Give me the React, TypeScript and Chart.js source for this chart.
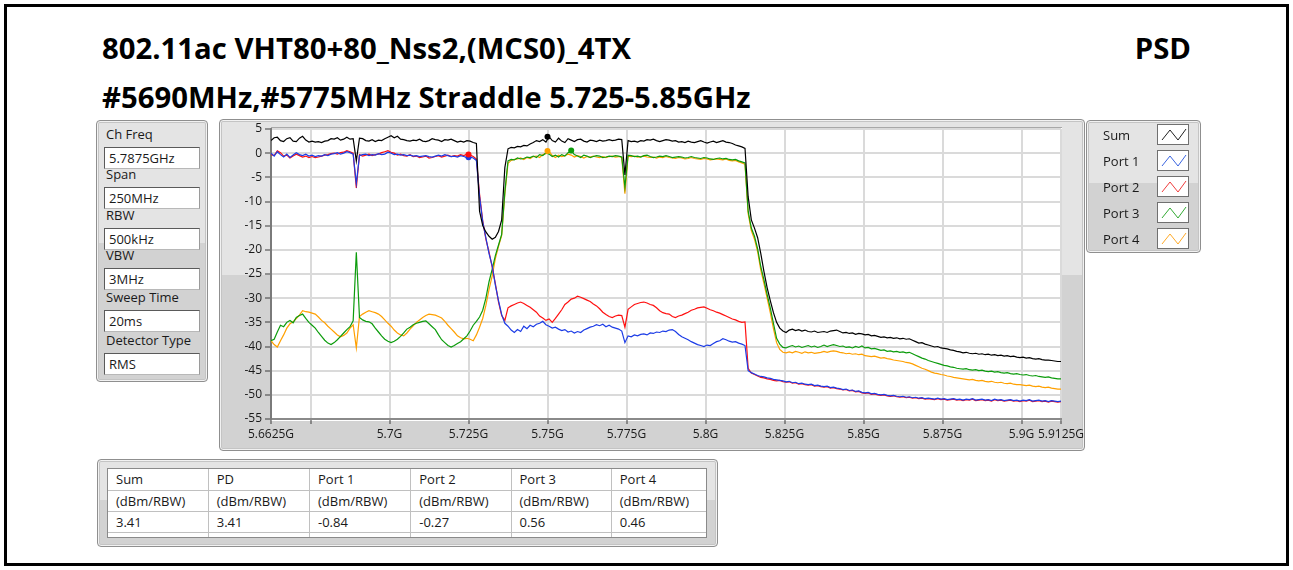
import React, { useEffect, useRef } from "react";
import { Chart, registerables } from "chart.js";

Chart.register(...registerables);

// ---------- DATA ----------
const FREQ_MHZ = [
  5662.5, 5663.5, 5664.5, 5665.5, 5666.5, 5667.5, 5668.5, 5669.5, 5670.5, 5671.5,
  5672.5, 5673.5, 5674.5, 5675.5, 5676.5, 5677.5, 5678.5, 5679.5, 5680.5, 5681.5,
  5682.5, 5683.5, 5684.5, 5685.5, 5686.5, 5687.5, 5688.5, 5689.5, 5690.5, 5691.5,
  5692.5, 5693.5, 5694.5, 5695.5, 5696.5, 5697.5, 5698.5, 5699.5, 5700.5, 5701.5,
  5702.5, 5703.5, 5704.5, 5705.5, 5706.5, 5707.5, 5708.5, 5709.5, 5710.5, 5711.5,
  5712.5, 5713.5, 5714.5, 5715.5, 5716.5, 5717.5, 5718.5, 5719.5, 5720.5, 5721.5,
  5722.5, 5723.5, 5724.5, 5725.5, 5726.5, 5727.5, 5728.5, 5729.5, 5730.5, 5731.5,
  5732.5, 5733.5, 5734.5, 5735.5, 5736.5, 5737.5, 5738.5, 5739.5, 5740.5, 5741.5,
  5742.5, 5743.5, 5744.5, 5745.5, 5746.5, 5747.5, 5748.5, 5749.5, 5750.5, 5751.5,
  5752.5, 5753.5, 5754.5, 5755.5, 5756.5, 5757.5, 5758.5, 5759.5, 5760.5, 5761.5,
  5762.5, 5763.5, 5764.5, 5765.5, 5766.5, 5767.5, 5768.5, 5769.5, 5770.5, 5771.5,
  5772.5, 5773.5, 5774.5, 5775.5, 5776.5, 5777.5, 5778.5, 5779.5, 5780.5, 5781.5,
  5782.5, 5783.5, 5784.5, 5785.5, 5786.5, 5787.5, 5788.5, 5789.5, 5790.5, 5791.5,
  5792.5, 5793.5, 5794.5, 5795.5, 5796.5, 5797.5, 5798.5, 5799.5, 5800.5, 5801.5,
  5802.5, 5803.5, 5804.5, 5805.5, 5806.5, 5807.5, 5808.5, 5809.5, 5810.5, 5811.5,
  5812.5, 5813.5, 5814.5, 5815.5, 5816.5, 5817.5, 5818.5, 5819.5, 5820.5, 5821.5,
  5822.5, 5823.5, 5824.5, 5825.5, 5826.5, 5827.5, 5828.5, 5829.5, 5830.5, 5831.5,
  5832.5, 5833.5, 5834.5, 5835.5, 5836.5, 5837.5, 5838.5, 5839.5, 5840.5, 5841.5,
  5842.5, 5843.5, 5844.5, 5845.5, 5846.5, 5847.5, 5848.5, 5849.5, 5850.5, 5851.5,
  5852.5, 5853.5, 5854.5, 5855.5, 5856.5, 5857.5, 5858.5, 5859.5, 5860.5, 5861.5,
  5862.5, 5863.5, 5864.5, 5865.5, 5866.5, 5867.5, 5868.5, 5869.5, 5870.5, 5871.5,
  5872.5, 5873.5, 5874.5, 5875.5, 5876.5, 5877.5, 5878.5, 5879.5, 5880.5, 5881.5,
  5882.5, 5883.5, 5884.5, 5885.5, 5886.5, 5887.5, 5888.5, 5889.5, 5890.5, 5891.5,
  5892.5, 5893.5, 5894.5, 5895.5, 5896.5, 5897.5, 5898.5, 5899.5, 5900.5, 5901.5,
  5902.5, 5903.5, 5904.5, 5905.5, 5906.5, 5907.5, 5908.5, 5909.5, 5910.5, 5911.5,
  5912.5,
];

const SUM = [
  2.6, 3.2, 3.3, 2.6, 2.4, 3.0, 3.2, 2.5, 2.4, 3.1,
  3.5, 2.7, 2.3, 2.5, 2.3, 2.4, 2.2, 2.5, 2.6, 3.0,
  2.9, 3.2, 2.7, 2.9, 3.3, 2.9, 3.0, -1.6, 3.1, 3.0,
  2.6, 2.5, 2.8, 2.4, 2.7, 2.6, 3.0, 3.3, 3.6, 3.2,
  3.5, 2.9, 2.8, 2.6, 2.5, 2.7, 2.6, 2.9, 2.5, 2.4,
  2.6, 3.0, 2.8, 2.7, 2.4, 2.8, 2.7, 2.9, 2.6, 2.3,
  2.5, 2.3, 2.6, 2.5, 2.2, 2.0, -12.0, -15.0, -16.3, -17.2,
  -17.8, -17.4, -16.2, -13.8, -3.0, 0.9, 1.2, 1.1, 1.4, 1.3,
  1.6, 1.5, 1.9, 2.2, 2.6, 2.4, 2.8, 2.3, 3.4, 2.6,
  2.3, 3.1, 2.5, 2.2, 3.0, 2.7, 2.4, 2.8, 2.9, 2.5,
  2.3, 2.7, 2.6, 2.4, 2.7, 2.5, 2.6, 2.8, 2.6, 2.7,
  2.9, 2.8, -4.5, 2.6, 2.4, 2.5, 2.3, 2.6, 2.5, 2.8,
  2.7, 2.9, 2.6, 2.4, 2.6, 2.8, 2.7, 2.5, 2.6, 2.3,
  2.4, 2.2, 2.5, 2.3, 2.2, 2.4, 2.6, 2.3, 2.1, 2.3,
  2.5, 2.2, 2.4, 2.6, 2.3, 2.2, 2.0, 1.7, 1.5, 1.3,
  1.0, -9.0, -13.8, -15.5, -17.5, -20.8, -24.5, -27.8, -30.5, -33.0,
  -35.0, -36.2, -36.8, -37.1, -36.6, -36.4, -36.7, -36.5, -36.8, -36.6,
  -36.9, -37.0, -36.8, -37.1, -37.0, -36.9, -37.1, -36.8, -36.7, -36.6,
  -36.9, -37.2, -37.1, -37.3, -37.2, -37.5, -37.3, -37.4, -37.6, -37.5,
  -37.8, -37.7, -37.9, -38.1, -38.0, -38.2, -38.1, -38.3, -38.2, -38.4,
  -38.3, -38.5, -38.4, -38.7, -39.0, -39.3, -39.2, -39.5, -39.7, -39.9,
  -40.1, -40.0, -40.3, -40.4, -40.5, -40.7, -40.8, -41.0, -41.1, -41.3,
  -41.2, -41.4, -41.5, -41.4, -41.6, -41.5, -41.7, -41.6, -41.8, -41.7,
  -41.9, -41.8, -42.0, -41.9, -42.1, -42.0, -42.2, -42.3, -42.2, -42.4,
  -42.3, -42.5, -42.6, -42.5, -42.7, -42.8, -42.8, -42.9, -43.0, -43.1,
  -43.1,
];

const PORT1 = [
  0.0, -0.6, 0.3, -0.3, -0.8, -0.2, -0.9, -0.4, 0.1, -0.3,
  -0.5, -0.2, -0.6, -0.4, -0.7, -0.5, -0.6, -0.3, -0.5, -0.2,
  -0.1, 0.1, -0.2, 0.0, 0.3, 0.1, -0.2, -6.3, -0.5, -0.3,
  -0.2, -0.5, -0.3, -0.4, -0.1, -0.3, -0.2, 0.2, 0.0, -0.3,
  -0.2, -0.4, -0.3, -0.5, -0.4, -0.6, -0.5, -0.7, -0.6, -0.5,
  -0.7, -0.8, -0.6, -0.4, -0.6, -0.3, -0.5, -0.7, -0.6, -0.8,
  -0.5, -0.7, -0.9, -0.8, -1.0, -1.5, -9.0, -14.2, -17.5, -20.8,
  -23.3, -27.3, -30.5, -33.4, -35.2, -35.8, -36.6, -37.1, -36.5, -36.9,
  -35.8, -36.3, -35.6, -35.9, -35.4, -35.2, -34.8, -35.5, -35.8, -36.2,
  -36.0, -36.4, -36.7, -36.5, -37.0, -36.8, -37.2, -36.9, -37.1, -36.6,
  -36.3, -36.0, -35.8, -35.5, -35.7, -35.4, -35.9, -35.6, -36.0, -36.2,
  -36.4, -36.8, -39.2, -37.8, -38.0, -37.6, -37.8, -37.5, -37.4, -37.6,
  -37.2, -37.3, -37.0, -37.1, -36.8, -36.9, -36.6, -36.5, -36.9, -37.5,
  -38.0, -38.3, -38.6, -39.0, -39.3, -39.6, -39.8, -40.0, -39.7, -39.8,
  -39.4, -39.0, -38.8, -38.4, -38.6, -38.9, -39.1, -39.0, -39.3, -39.5,
  -39.8, -45.0, -45.4, -45.7, -46.0, -46.2, -46.3, -46.5, -46.6, -46.8,
  -46.9, -47.0, -47.1, -47.3, -47.2, -47.5, -47.4, -47.7, -47.6, -47.8,
  -47.9, -47.8, -48.1, -48.0, -48.2, -48.3, -48.2, -48.5, -48.4, -48.6,
  -48.7, -48.9, -48.8, -49.1, -49.0, -49.3, -49.2, -49.5, -49.6, -49.5,
  -49.8, -49.7, -49.9, -50.0, -49.9, -50.1, -50.2, -50.1, -50.3, -50.4,
  -50.3, -50.5, -50.4, -50.6, -50.5, -50.7, -50.6, -50.8, -50.7, -50.8,
  -50.9, -50.7, -50.9, -50.8, -51.0, -50.9, -50.8, -51.0, -50.9, -51.1,
  -50.9, -51.0, -50.8, -51.1, -51.0, -50.9, -51.1, -51.0, -51.2, -50.9,
  -51.1, -51.0, -51.2, -51.1, -51.0, -51.2, -51.1, -51.3, -51.1, -51.2,
  -51.0, -51.3, -51.2, -51.1, -51.3, -51.2, -51.4, -51.2, -51.3, -51.4,
  -51.3,
];

const PORT2 = [
  -0.3, -0.5, 0.5, 0.1, -0.6, -0.4, -1.0, -0.6, -0.2, -0.5,
  -0.8, -0.6, -0.9, -0.7, -0.9, -0.8, -0.6, -0.4, -0.3, -0.1,
  0.0, -0.2, 0.1, 0.2, 0.5, 0.3, 0.0, -7.2, -0.3, -0.6,
  -0.4, -0.2, -0.5, -0.3, -0.2, 0.1, 0.3, 0.5, 0.2, 0.0,
  -0.4, -0.2, -0.5, -0.6, -0.3, -0.7, -0.6, -0.9, -0.8, -0.6,
  -1.0, -0.9, -0.7, -0.5, -0.8, -0.6, -0.4, -0.7, -0.5, -0.6,
  -0.3, -0.5, -0.2, -0.4, -0.7, -1.2, -8.5, -14.0, -17.8, -20.5,
  -23.6, -27.0, -30.8, -33.6, -34.6, -32.0, -31.6, -31.3, -31.0, -30.8,
  -31.1, -31.5, -31.9, -32.4, -32.9, -33.7, -34.1, -34.6, -34.3, -35.0,
  -34.2, -33.3, -32.4, -31.3, -30.8, -30.2, -30.0, -29.6, -29.8, -30.1,
  -30.4, -30.7, -31.2, -31.6, -32.2, -32.9, -33.4, -33.8, -34.0, -33.7,
  -33.5, -33.6, -36.0, -32.3, -31.8, -31.3, -31.1, -30.9, -30.8, -31.0,
  -31.3, -31.5, -32.0, -32.6, -33.0, -33.2, -33.3, -33.8, -34.0, -33.7,
  -33.5, -33.2, -32.9, -32.5, -32.3, -32.0, -31.9, -31.8, -32.1, -32.4,
  -32.6, -32.9, -33.1, -33.4, -33.7, -34.0, -34.3, -34.5, -34.8, -35.0,
  -34.9, -44.5, -45.5, -45.8, -46.1, -46.4, -46.5, -46.7, -46.8, -47.0,
  -47.1, -47.0, -47.3, -47.4, -47.3, -47.6, -47.5, -47.8, -47.7, -47.9,
  -48.0, -47.9, -48.2, -48.1, -48.3, -48.4, -48.3, -48.6, -48.5, -48.7,
  -48.8, -49.0, -48.9, -49.2, -49.1, -49.4, -49.3, -49.6, -49.7, -49.6,
  -49.9, -49.8, -50.0, -50.1, -50.0, -50.2, -50.3, -50.2, -50.4, -50.5,
  -50.4, -50.6, -50.5, -50.7, -50.6, -50.8, -50.7, -50.9, -50.8, -50.9,
  -51.0, -50.8, -51.0, -50.9, -51.1, -51.0, -50.9, -51.1, -51.0, -51.2,
  -51.0, -51.1, -50.9, -51.2, -51.1, -51.0, -51.2, -51.1, -51.3, -51.0,
  -51.2, -51.1, -51.3, -51.2, -51.1, -51.3, -51.2, -51.4, -51.2, -51.3,
  -51.1, -51.4, -51.3, -51.2, -51.4, -51.3, -51.5, -51.3, -51.4, -51.5,
  -51.4,
];

const PORT3 = [
  -38.8, -38.5, -37.0, -35.6, -35.9, -35.0, -34.6, -35.1, -34.0, -33.6,
  -33.3, -34.2, -35.0, -35.6, -36.2, -37.1, -37.9, -38.7, -39.3, -39.6,
  -39.2, -38.6, -37.9, -37.2, -36.5, -35.9, -34.7, -20.5, -34.0, -34.5,
  -34.8, -34.9, -35.3, -36.2, -37.0, -37.8, -38.5, -38.9, -39.2, -38.9,
  -38.5, -37.9, -37.2, -36.4, -36.0, -35.5, -35.2, -35.0, -34.8, -34.7,
  -35.3, -35.9, -36.5, -37.6, -38.6, -39.2, -39.8, -40.1, -39.8, -39.4,
  -39.0, -38.4, -37.8, -36.8, -35.6, -34.8, -33.9, -32.5, -30.0, -26.6,
  -24.0, -21.2, -19.0, -16.8, -8.0, -1.6, -1.3, -1.4, -1.0, -1.2,
  -1.1, -0.8, -0.9, -0.6, -0.9, -0.3, -0.5, 0.1, -0.2, -0.7,
  -0.4, -0.8, -0.3, -0.6, 0.1, 0.5, -0.3, -0.6, -0.9, -0.4,
  -0.6, -0.9, -0.7, -0.5, -0.6, -0.9, -0.8, -0.6, -0.7, -0.5,
  -0.6, -0.8, -7.0, -0.4, -0.5, -0.7, -0.6, -0.8, -0.5, -0.4,
  -0.7, -0.9, -0.8, -0.6, -0.7, -0.5, -0.7, -0.9, -0.8, -0.7,
  -0.8, -1.0, -0.9, -0.7, -0.9, -1.0, -1.1, -0.9, -1.0, -1.2,
  -1.3, -1.1, -1.0, -1.2, -1.1, -1.3, -1.4, -1.3, -1.6, -1.8,
  -2.0, -12.0, -15.5, -17.2, -19.8, -23.5, -26.2, -29.2, -32.0, -35.2,
  -38.3, -39.5, -40.2, -40.3, -40.0, -39.8, -40.1, -39.9, -40.2, -40.0,
  -39.8, -40.1, -39.9, -40.2, -40.0, -39.7, -40.0, -39.8, -39.6, -39.8,
  -40.0, -39.9, -40.2, -40.1, -40.3, -40.0, -40.2, -39.9, -40.3, -40.2,
  -40.5, -40.4, -40.6, -40.8, -40.7, -41.0, -40.9, -41.1, -41.0, -41.2,
  -41.1, -41.3, -41.2, -41.5, -41.8, -42.1, -42.4, -42.6, -42.9, -43.1,
  -43.3, -43.5, -43.7, -43.9, -44.0, -44.2, -44.3, -44.5, -44.6, -44.7,
  -44.6, -44.8, -44.9, -44.8, -45.0, -44.9, -45.1, -45.2, -45.1, -45.3,
  -45.2, -45.4, -45.5, -45.4, -45.6, -45.7, -45.6, -45.8, -45.9, -45.8,
  -46.0, -46.1, -46.0, -46.2, -46.3, -46.4, -46.3, -46.5, -46.6, -46.7,
  -46.7,
];

const PORT4 = [
  -38.8, -39.6, -40.1, -38.8, -37.6, -36.2, -35.3, -34.9, -34.2, -33.5,
  -32.6, -32.8, -32.9, -33.1, -33.3, -33.9, -34.6, -35.1, -35.8, -36.4,
  -37.0, -37.6, -38.0, -37.7, -37.2, -36.2, -35.5, -40.3, -33.8, -33.3,
  -32.9, -32.6, -32.8, -33.0, -33.3, -33.8, -34.5, -35.2, -35.8, -36.6,
  -37.2, -37.6, -37.8, -37.2, -36.4, -35.7, -35.0, -34.5, -34.0, -33.6,
  -33.3, -33.4, -33.5, -33.8, -34.1, -34.8, -35.6, -36.3, -37.0, -37.8,
  -38.2, -38.4, -38.3, -38.5, -38.8, -37.6, -36.0, -34.2, -31.5, -28.2,
  -25.4, -21.8, -19.3, -17.0, -8.5, -2.1, -1.5, -1.3, -1.2, -1.0,
  -1.3, -0.9, -1.1, -0.7, -0.6, -0.9, -0.3, -0.1, 0.4, -0.5,
  -0.9, -0.4, -0.7, -0.5, -0.2, -0.4, -0.8, -0.5, -0.7, -1.0,
  -0.7, -0.8, -0.6, -0.8, -0.9, -0.7, -0.9, -0.7, -0.6, -0.8,
  -0.7, -0.9, -8.4, -0.6, -0.7, -0.6, -0.8, -0.7, -0.6, -0.8,
  -0.9, -0.8, -1.0, -0.8, -0.9, -0.7, -0.9, -1.0, -1.1, -0.9,
  -1.0, -1.2, -1.1, -0.9, -1.1, -1.2, -1.3, -1.1, -1.2, -1.4,
  -1.3, -1.2, -1.3, -1.4, -1.2, -1.5, -1.6, -1.5, -1.8, -2.0,
  -2.3, -12.5, -16.0, -17.8, -20.4, -24.2, -27.0, -30.0, -33.0, -36.3,
  -39.2, -40.6, -41.2, -41.3, -41.1, -41.3, -41.0, -41.2, -41.4, -41.1,
  -41.3, -41.2, -41.4, -41.3, -41.2, -41.0, -41.2, -41.0, -40.9, -41.0,
  -41.2, -41.3, -41.5, -41.4, -41.6, -41.5, -41.7, -41.6, -41.9, -42.0,
  -42.1, -42.0, -42.2, -42.4, -42.3, -42.5, -42.6, -42.8, -42.9, -43.0,
  -43.1, -43.3, -43.4, -43.6, -43.9, -44.2, -44.5, -44.7, -45.0, -45.3,
  -45.5, -45.6, -45.8, -45.9, -46.1, -46.2, -46.4, -46.5, -46.6, -46.7,
  -46.8, -46.9, -46.8, -47.0, -47.1, -47.0, -47.2, -47.3, -47.2, -47.4,
  -47.5, -47.4, -47.6, -47.7, -47.6, -47.8, -47.9, -47.9, -48.0, -48.1,
  -48.0, -48.2, -48.3, -48.2, -48.4, -48.5, -48.4, -48.6, -48.7, -48.8,
  -48.8,
];

const MARKER_FREQ = [5750, 5725, 5725, 5757.5, 5750];
const MARKER_LEVEL = [3.41, -0.84, -0.27, 0.56, 0.46];

const SERIES_NAMES = ["Sum", "Port 1", "Port 2", "Port 3", "Port 4"];
const SERIES_COLORS = ["#000000", "#1c3ce6", "#ff1010", "#0c9c0c", "#ffa000"];
const LEGEND_COLORS = ["#202020", "#3a64e0", "#f03c3c", "#32aa32", "#ffaa28"];

const X_TICKS = [5662.5, 5675, 5700, 5725, 5750, 5775, 5800, 5825, 5850, 5875, 5900, 5912.5];
const X_TICK_LABELS = ["5.6625G", "", "5.7G", "5.725G", "5.75G", "5.775G", "5.8G", "5.825G", "5.85G", "5.875G", "5.9G", "5.9125G"];
const Y_TICKS = [5, 0, -5, -10, -15, -20, -25, -30, -35, -40, -45, -50, -55];

const SETTING_LABELS = ["Ch Freq", "Span", "RBW", "VBW", "Sweep Time", "Detector Type"];
const SETTING_VALUES = ["5.7875GHz", "250MHz", "500kHz", "3MHz", "20ms", "RMS"];

const TABLE_HEADERS = ["Sum", "PD", "Port 1", "Port 2", "Port 3", "Port 4"];
const TABLE_UNITS = ["(dBm/RBW)", "(dBm/RBW)", "(dBm/RBW)", "(dBm/RBW)", "(dBm/RBW)", "(dBm/RBW)"];
const TABLE_VALUES = ["3.41", "3.41", "-0.84", "-0.27", "0.56", "0.46"];

const TITLE_1 = "802.11ac VHT80+80_Nss2,(MCS0)_4TX";
const TITLE_2 = "#5690MHz,#5775MHz Straddle 5.725-5.85GHz";
const TITLE_RIGHT = "PSD";

// ---------- LAYOUT ----------
const W = 1293;
const H = 570;
const UI_FONT = "'Open Sans', 'Noto Sans', sans-serif";
const PANEL_BG = "linear-gradient(#e4e4e4 0%, #e4e4e4 47%, #d2d2d2 47%, #d2d2d2 100%)";

const panelStyle = (left: number, top: number, width: number, height: number): React.CSSProperties => ({
  position: "absolute",
  left,
  top,
  width,
  height,
  boxSizing: "border-box",
  border: "1px solid #8f8f8f",
  borderRadius: 4,
  background: PANEL_BG,
  boxShadow: "inset 0 0 0 1px #f2f2f2, inset 0 0 0 2px #c4c4c4",
});

const SETTING_BOX_TOPS = [147, 187, 228, 268, 310, 353];
const LEGEND_ROW_TOPS = [124, 150, 176, 202, 228];
const TABLE_COL_W = [100, 101, 101, 100, 100, 96];

function SpectrumChart() {
  const ref = useRef<HTMLCanvasElement | null>(null);
  useEffect(() => {
    if (!ref.current) return;
    const lineSets = [SUM, PORT1, PORT2, PORT3, PORT4].map((vals, k) => ({
      type: "line" as const,
      label: SERIES_NAMES[k],
      data: vals.map((v, i) => ({ x: FREQ_MHZ[i], y: v })),
      borderColor: SERIES_COLORS[k],
      borderWidth: 1.2,
      pointRadius: 0,
      tension: 0,
      fill: false,
      order: k + 1,
    }));
    const markerSet = {
      type: "line" as const,
      label: "Markers",
      data: MARKER_FREQ.map((f, i) => ({ x: f, y: MARKER_LEVEL[i] })),
      showLine: false,
      pointRadius: 3,
      pointBorderWidth: 0,
      pointBackgroundColor: SERIES_COLORS,
      pointBorderColor: SERIES_COLORS,
      order: 0,
    };
    const tickFont = { family: UI_FONT, size: 12 };
    const chart = new Chart(ref.current, {
      type: "line",
      data: { datasets: [markerSet, ...lineSets] as any },
      options: {
        animation: false,
        responsive: false,
        devicePixelRatio: 1,
        events: [],
        layout: { padding: { left: 220, right: W - 1061, top: 129, bottom: H - 450 } },
        plugins: { legend: { display: false }, tooltip: { enabled: false }, title: { display: false } },
        scales: {
          x: {
            type: "linear",
            min: 5662.5,
            max: 5912.5,
            afterBuildTicks: (s: any) => {
              s.ticks = X_TICKS.map((v) => ({ value: v }));
            },
            afterFit: (s: any) => {
              s.height = 31;
            },
            ticks: {
              autoSkip: false,
              maxRotation: 0,
              padding: 3,
              color: "#1a1a1a",
              font: tickFont,
              callback: (_v: any, i: number) => X_TICK_LABELS[i],
            },
            grid: { color: "#dadada", lineWidth: 2, tickLength: 5, tickColor: "#3c3c3c", tickWidth: 1 },
            border: { color: "#8a8a8a", width: 2 },
          },
          y: {
            type: "linear",
            min: -55,
            max: 5,
            afterBuildTicks: (s: any) => {
              s.ticks = Y_TICKS.map((v) => ({ value: v }));
            },
            afterFit: (s: any) => {
              s.width = 51;
            },
            ticks: {
              autoSkip: false,
              padding: 3,
              color: "#1a1a1a",
              font: tickFont,
              callback: (v: any) => String(v),
            },
            grid: { color: "#dadada", lineWidth: 2, tickLength: 6, tickColor: "#3c3c3c", tickWidth: 1 },
            border: { color: "#7a7a7a", width: 2 },
          },
        },
      } as any,
    });
    return () => chart.destroy();
  }, []);
  return <canvas ref={ref} width={W} height={H} style={{ position: "absolute", left: 0, top: 0, width: W, height: H }} />;
}

export default function App() {
  const text13: React.CSSProperties = { fontFamily: UI_FONT, fontSize: 13, color: "#1a1a1a", lineHeight: "16px" };
  const titleStyle: React.CSSProperties = {
    position: "absolute",
    fontFamily: UI_FONT,
    fontWeight: 700,
    fontSize: 29.3,
    lineHeight: "34px",
    color: "#000",
    whiteSpace: "nowrap",
  };
  return (
    <div style={{ position: "fixed", left: 0, top: 0, width: W, height: H, background: "#ffffff", overflow: "hidden" }}>
      {/* outer frame */}
      <div style={{ position: "absolute", left: 4, top: 4, width: 1285, height: 562, boxSizing: "border-box", border: "3px solid #000" }} />

      {/* titles */}
      <div style={{ ...titleStyle, left: 102, top: 31 }}>{TITLE_1}</div>
      <div style={{ ...titleStyle, left: 102, top: 80 }}>{TITLE_2}</div>
      <div style={{ ...titleStyle, right: W - 1191, top: 31 }}>{TITLE_RIGHT}</div>

      {/* settings panel */}
      <div style={panelStyle(96, 120, 112, 262)} />
      {SETTING_LABELS.map((lab, i) => (
        <React.Fragment key={lab}>
          <div style={{ ...text13, position: "absolute", left: 106, top: SETTING_BOX_TOPS[i] - 21, whiteSpace: "nowrap" }}>{lab}</div>
          <div
            style={{
              ...text13,
              position: "absolute",
              left: 104,
              top: SETTING_BOX_TOPS[i],
              width: 96,
              height: 22,
              boxSizing: "border-box",
              background: "#fff",
              borderTop: "1px solid #5a5a5a",
              borderLeft: "1px solid #5a5a5a",
              borderRight: "1px solid #9a9a9a",
              borderBottom: "1px solid #b8b8b8",
              paddingLeft: 4,
              lineHeight: "20px",
            }}
          >
            {SETTING_VALUES[i]}
          </div>
        </React.Fragment>
      ))}

      {/* chart panel */}
      <div style={panelStyle(219, 119, 866, 332)} />
      <div style={{ position: "absolute", left: 271, top: 127, width: 791, height: 293, background: "#fff", borderTop: "1px solid #a8a8a8" }} />
      <SpectrumChart />

      {/* legend panel */}
      <div style={panelStyle(1086, 120, 115, 133)} />
      {SERIES_NAMES.map((name, i) => (
        <React.Fragment key={name}>
          <div style={{ ...text13, position: "absolute", left: 1103, top: LEGEND_ROW_TOPS[i] + 3, whiteSpace: "nowrap" }}>{name}</div>
          <svg
            width={32}
            height={21}
            style={{ position: "absolute", left: 1157, top: LEGEND_ROW_TOPS[i], background: "#fff", boxSizing: "border-box", border: "1px solid #707070" }}
          >
            <polyline points="4,15 12,5 20,15 28,4" fill="none" stroke={LEGEND_COLORS[i]} strokeWidth={1} />
          </svg>
        </React.Fragment>
      ))}

      {/* results table panel */}
      <div style={panelStyle(97, 459, 621, 88)} />
      <div style={{ position: "absolute", left: 107, top: 468, width: 600, height: 70, background: "#fff", border: "1px solid #8a8a8a", boxSizing: "border-box", overflow: "hidden" }}>
        <table style={{ borderCollapse: "collapse", tableLayout: "fixed", width: 600 }}>
          <tbody>
            {[TABLE_HEADERS, TABLE_UNITS, TABLE_VALUES, ["", "", "", "", "", ""]].map((row, r) => (
              <tr key={r}>
                {row.map((c, j) => (
                  <td
                    key={j}
                    style={{
                      ...text13,
                      width: TABLE_COL_W[j],
                      height: 21,
                      padding: "0 0 0 8px",
                      borderRight: "1px solid #c0c0c0",
                      borderBottom: "1px solid #c0c0c0",
                      whiteSpace: "nowrap",
                      boxSizing: "border-box",
                    }}
                  >
                    {c}
                  </td>
                ))}
              </tr>
            ))}
          </tbody>
        </table>
      </div>
    </div>
  );
}
